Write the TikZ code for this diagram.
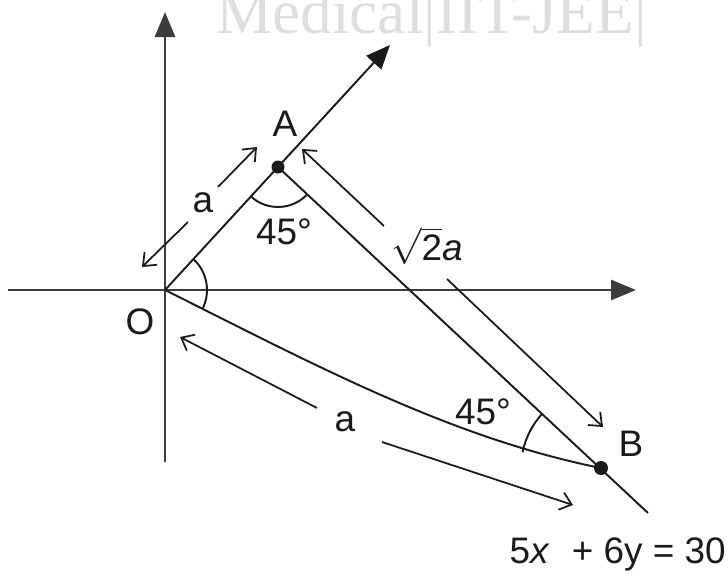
\documentclass[tikz,border=0pt]{standalone}
\usepackage{fontspec}
\setmainfont{Liberation Sans}
\newfontfamily\markfont{Liberation Serif}
\usetikzlibrary{arrows.meta,angles}
\definecolor{ink}{HTML}{1A1A1A}
\definecolor{axisgray}{HTML}{3C3C3C}
\definecolor{markgray}{HTML}{DEDEDE}

\begin{document}
\begin{tikzpicture}[x=0.02cm,y=-0.02cm,font=\fontsize{21}{24}\selectfont,text=ink,
    axisline/.style={axisgray,line width=1.6pt,-{Triangle[length=0.5cm,width=0.4cm]}},
    geo/.style={ink,line width=1.1pt},
    dimarrow/.style={ink,line width=1pt,-{Straight Barb[length=0.22cm,width=0.36cm]}},
    lbl/.style={inner sep=0pt}]
  \useasboundingbox (0,0) rectangle (728,579);
  \node[anchor=base west,lbl,font=\markfont\fontsize{36}{36}\selectfont,text=markgray]
    (mark) at (216,33) {Medical|IIT-JEE|};
  % axes
  \coordinate (xl) at (8,290);
  \coordinate (xr) at (636,290);
  \coordinate (yb) at (165,462);
  \coordinate (yt) at (165,12);
  \draw[axisline] (xl) -- (xr);
  \draw[axisline] (yb) -- (yt);
  % points
  \coordinate (O) at (165,290);
  \coordinate (A) at (278,167);
  \coordinate (B) at (601,468);
  \coordinate (ray) at (390,45);
  \coordinate (lineend) at (648,513);
  \coordinate (Ot) at (315,365);
  \coordinate (Bt) at (451,438);
  \draw[geo,-{Triangle[length=0.48cm,width=0.4cm]}] (O) -- (ray);
  \draw[geo] (A) -- (lineend);
  \draw[geo] (O) .. controls (Ot) and (Bt) .. (B);
  \fill[ink] (A) circle (6.5);
  \fill[ink] (B) circle (7);
  % angles
  \pic[draw,geo,angle radius=0.8cm] {angle=O--A--B};
  \pic[draw,geo,angle radius=0.84cm] {angle=Ot--O--A};
  \pic[draw,geo,angle radius=1.6cm] {angle=A--B--Bt};
  % lengths
  \coordinate (p1) at (188,222); \coordinate (q1) at (142,267);
  \coordinate (p2) at (218,187); \coordinate (q2) at (257,147);
  \coordinate (p3) at (384,226); \coordinate (q3) at (302,149);
  \coordinate (p4) at (447,279); \coordinate (q4) at (603,427);
  \coordinate (p5) at (317,408); \coordinate (q5) at (180,337);
  \coordinate (p6) at (382,442); \coordinate (q6) at (573,505);
  \foreach \k in {1,...,6}
    \draw[dimarrow] (p\k) -- (q\k);
  % labels
  \node[lbl] (labA) at (285,124) {A};
  \node[lbl] (labO) at (140,322) {O};
  \node[lbl] (labB) at (631,444) {B};
  \node[lbl] (angA) at (284,232) {45°};
  \node[lbl] (angB) at (483,412) {45°};
  \node[lbl] (lenOA) at (203,203) {a};
  \node[lbl] (lenOB) at (345,422) {a};
  \node[lbl] (lenAB) at (427,246) {$\sqrt{\textrm{2}}$\textit{a}};
  \node[lbl,anchor=base east] (eq) at (726,563) {5\textit{x}\hspace{0.6em}+ 6y = 30};
\end{tikzpicture}
\end{document}
